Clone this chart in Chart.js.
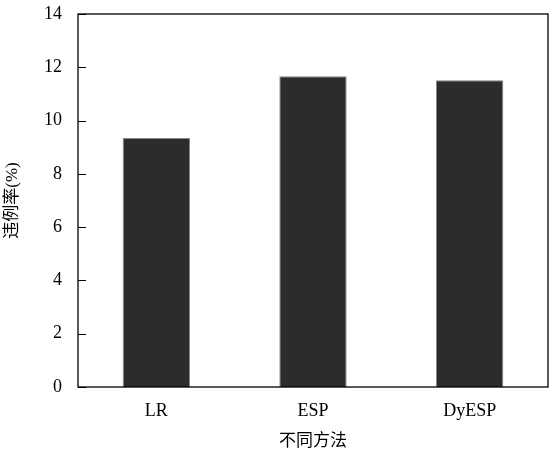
<!DOCTYPE html>
<html>
<head>
<meta charset="utf-8">
<script src="https://cdn.jsdelivr.net/npm/chart.js@4"></script>
<style>
  html, body { margin: 0; padding: 0; background: #fff; }
  #wrap { width: 550px; height: 452px; }
</style>
</head>
<body>
<div id="wrap"><canvas id="chart" width="550" height="452"></canvas></div>
<script>
// data
const methods = ["LR", "ESP", "DyESP"];
const violationRate = [9.35, 11.66, 11.51];
const yTicks = [0, 2, 4, 6, 8, 10, 12, 14];

const FONT = "'Liberation Serif', 'Noto Sans CJK SC', serif";

/* box around plot + inward ticks on the left axis */
const framePlugin = {
  id: "frame",
  afterDraw(chart) {
    const { ctx, chartArea: a, scales } = chart;
    ctx.save();
    ctx.strokeStyle = "#000";
    ctx.lineWidth = 1.3;
    ctx.strokeRect(a.left, a.top, a.right - a.left, a.bottom - a.top);
    ctx.lineWidth = 1;
    yTicks.forEach(v => {
      const y = Math.round(scales.y.getPixelForValue(v)) + 0.5;
      ctx.beginPath();
      ctx.moveTo(a.left, y);
      ctx.lineTo(a.left + 8, y);
      ctx.stroke();
    });
    ctx.restore();
  }
};

new Chart(document.getElementById("chart"), {
  type: "bar",
  data: {
    labels: methods,
    datasets: [{
      data: violationRate,
      backgroundColor: "#2d2b2b",
      borderColor: "#8a8888",
      borderWidth: 1,
      barPercentage: 0.43,
      categoryPercentage: 1
    }]
  },
  options: {
    responsive: false,
    animation: false,
    layout: { padding: { top: 14, right: 2, left: 0, bottom: 0 } },
    plugins: { legend: { display: false }, tooltip: { enabled: false } },
    scales: {
      x: {
        grid: { display: false, drawTicks: false },
        border: { display: false },
        ticks: { color: "#000", padding: 13, font: { family: FONT, size: 18 } },
        title: {
          display: true, text: "不同方法", color: "#000",
          font: { family: FONT, size: 17 }, padding: { top: 2, bottom: 0 }
        },
        afterFit(s) { s.height = 65; }
      },
      y: {
        min: 0, max: 14,
        grid: { display: false, drawTicks: false },
        border: { display: false },
        ticks: { stepSize: 2, color: "#000", padding: 16, font: { family: FONT, size: 18 } },
        title: {
          display: true, text: "违例率(%)", color: "#000",
          font: { family: FONT, size: 17 }, padding: { top: 2, bottom: 0 }
        },
        afterFit(s) { s.width = 78; s.paddingTop = 0; s.paddingBottom = 0; }
      }
    }
  },
  plugins: [framePlugin]
});
</script>
</body>
</html>
